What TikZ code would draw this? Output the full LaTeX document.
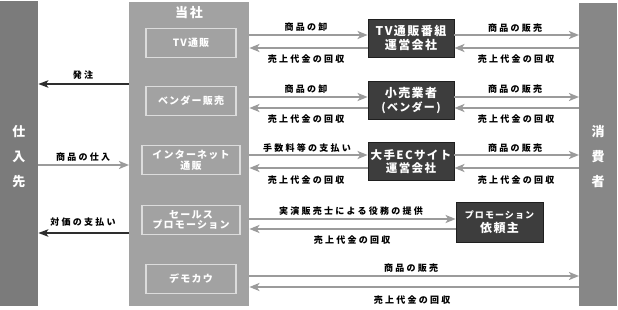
\documentclass[tikz,border=0pt]{standalone}
\usepackage{fontspec}
\usetikzlibrary{arrows.meta}
\setmainfont{Noto Sans CJK JP}
\newfontfamily\lab[LetterSpace=25]{Noto Sans CJK JP}
\newfontfamily\boxf[LetterSpace=12]{Noto Sans CJK JP}
\definecolor{barL}{HTML}{7B7B7B}
\definecolor{barC}{HTML}{A2A2A2}
\definecolor{barR}{HTML}{878787}
\definecolor{dbox}{HTML}{3D3D3D}
\definecolor{dboxline}{HTML}{1F1F1F}
\definecolor{garr}{HTML}{9B9B9B}
\definecolor{darr}{HTML}{2E2E2E}
\definecolor{inline}{HTML}{DCDCDC}
\begin{document}
\begin{tikzpicture}[x=1pt,y=-1pt,
  bar/.style={draw=none,inner sep=0pt,anchor=north west},
  bartext/.style={text=white,font=\fontsize{13}{14}\selectfont\bfseries,inner sep=0pt},
  inbox/.style={draw=inline,line width=1.2pt,minimum width=90pt,minimum height=29pt,inner sep=0pt,
    text=white,align=center,font=\boxf\fontsize{10}{11}\selectfont\bfseries},
  darkbox/.style={fill=dbox,draw=dboxline,line width=0.8pt,minimum width=86pt,minimum height=38pt,inner sep=0pt,
    text=white,align=center,font=\boxf\fontsize{12}{13.5}\selectfont\bfseries},
  lbl/.style={inner sep=0pt,text=black,font=\lab\fontsize{9}{10}\selectfont\bfseries},
  garrow/.style={draw=garr,line width=1.8pt,-{Stealth[length=10pt,width=8pt,inset=2.5pt]}},
  darrow/.style={draw=darr,line width=1.3pt,-{Stealth[length=10pt,width=7.5pt,inset=2.5pt]}}
]
\useasboundingbox (0,0) rectangle (618,310);
% bars
\node[bar,fill=barL,minimum width=38pt,minimum height=305pt] (L) at (0,1) {};
\node[bar,fill=barC,minimum width=120pt,minimum height=304pt] (C) at (129,2) {};
\node[bar,fill=barR,minimum width=38pt,minimum height=303pt] (R) at (579,3) {};
\node[bartext] (L1) at (19,132) {仕};
\node[bartext] (L2) at (19,157) {入};
\node[bartext] (L3) at (19,182) {先};
\node[bartext] (R1) at (598,132) {消};
\node[bartext] (R2) at (598,157) {費};
\node[bartext] (R3) at (598,182) {者};
\node[bartext,font=\boxf\fontsize{13}{14}\selectfont\bfseries] (Ct) at (189,13) {当社};
% inner boxes
\node[inbox] (tv) at (191,43) {TV通販};
\node[inbox] (vd) at (191,101) {ベンダー販売};
\node[inbox,minimum width=98pt,font=\boxf\fontsize{10}{10.5}\selectfont\bfseries] (ne) at (191,160) {インターネット\\通販};
\node[inbox,minimum width=98pt,font=\boxf\fontsize{10}{10.5}\selectfont\bfseries] (sp) at (191,220) {セールス\\プロモーション};
\node[inbox] (dm) at (191,279) {デモカウ};
% dark boxes
\node[darkbox] (TVB) at (411,38) {TV通販番組\\運営会社};
\node[darkbox] (KO) at (411,100.5) {小売業者\\{\fontsize{11}{12}\selectfont (ベンダー)}};
\node[darkbox,font=\boxf\fontsize{11.5}{13}\selectfont\bfseries] (EC) at (411,161.5) {大手ECサイト\\運営会社};
\node[darkbox,minimum width=87pt,minimum height=40pt] (PR) at (499.5,222) {{\fontsize{9}{10}\selectfont プロモーション}\\依頼主};
% row 1
\draw[garrow] (C.east |- 0,35) -- (TVB.west |- 0,35);
\draw[garrow] (TVB.west |- 0,48) -- (C.east |- 0,48);
\draw[garrow] (TVB.east |- 0,35) -- (R.west |- 0,35);
\draw[garrow] (R.west |- 0,48) -- (TVB.east |- 0,48);
\node[lbl] (a1) at (306,27.5) {商品の卸};
\node[lbl] (a2) at (306,59.5) {売上代金の回収};
\node[lbl] (a3) at (515,28.5) {商品の販売};
\node[lbl] (a4) at (516,59.5) {売上代金の回収};
% row 2
\draw[garrow] (C.east |- 0,97) -- (KO.west |- 0,97);
\draw[garrow] (KO.west |- 0,108) -- (C.east |- 0,108);
\draw[garrow] (KO.east |- 0,97) -- (R.west |- 0,97);
\draw[garrow] (R.west |- 0,108) -- (KO.east |- 0,108);
\node[lbl] (b1) at (306,89.5) {商品の卸};
\node[lbl] (b2) at (306,119) {売上代金の回収};
\node[lbl] (b3) at (515,89.5) {商品の販売};
\node[lbl] (b4) at (516,119) {売上代金の回収};
% row 3
\draw[garrow] (C.east |- 0,155) -- (EC.west |- 0,155);
\draw[garrow] (EC.west |- 0,168) -- (C.east |- 0,168);
\draw[garrow] (EC.east |- 0,155) -- (R.west |- 0,155);
\draw[garrow] (R.west |- 0,168) -- (EC.east |- 0,168);
\node[lbl] (c1) at (307,148) {手数料等の支払い};
\node[lbl] (c2) at (306,180.5) {売上代金の回収};
\node[lbl] (c3) at (515,148) {商品の販売};
\node[lbl] (c4) at (516,180.5) {売上代金の回収};
% row 4
\draw[garrow] (C.east |- 0,219) -- (PR.west |- 0,219);
\draw[garrow] (PR.west |- 0,229) -- (C.east |- 0,229);
\node[lbl] (d1) at (351,211) {実演販売士による役務の提供};
\node[lbl] (d2) at (352,240) {売上代金の回収};
% row 5
\draw[garrow] (C.east |- 0,276) -- (R.west |- 0,276);
\draw[garrow] (R.west |- 0,287) -- (C.east |- 0,287);
\node[lbl] (e1) at (411,268) {商品の販売};
\node[lbl] (e2) at (412,300) {売上代金の回収};
% left side
\draw[darrow] (C.west |- 0,84) -- (L.east |- 0,84);
\node[lbl] (f1) at (83,75) {発注};
\draw[garrow] (L.east |- 0,165) -- (C.west |- 0,165);
\node[lbl] (f2) at (83,157) {商品の仕入};
\draw[darrow] (C.west |- 0,233) -- (L.east |- 0,233);
\node[lbl] (f3) at (83,222) {対価の支払い};
\end{tikzpicture}
\end{document}
